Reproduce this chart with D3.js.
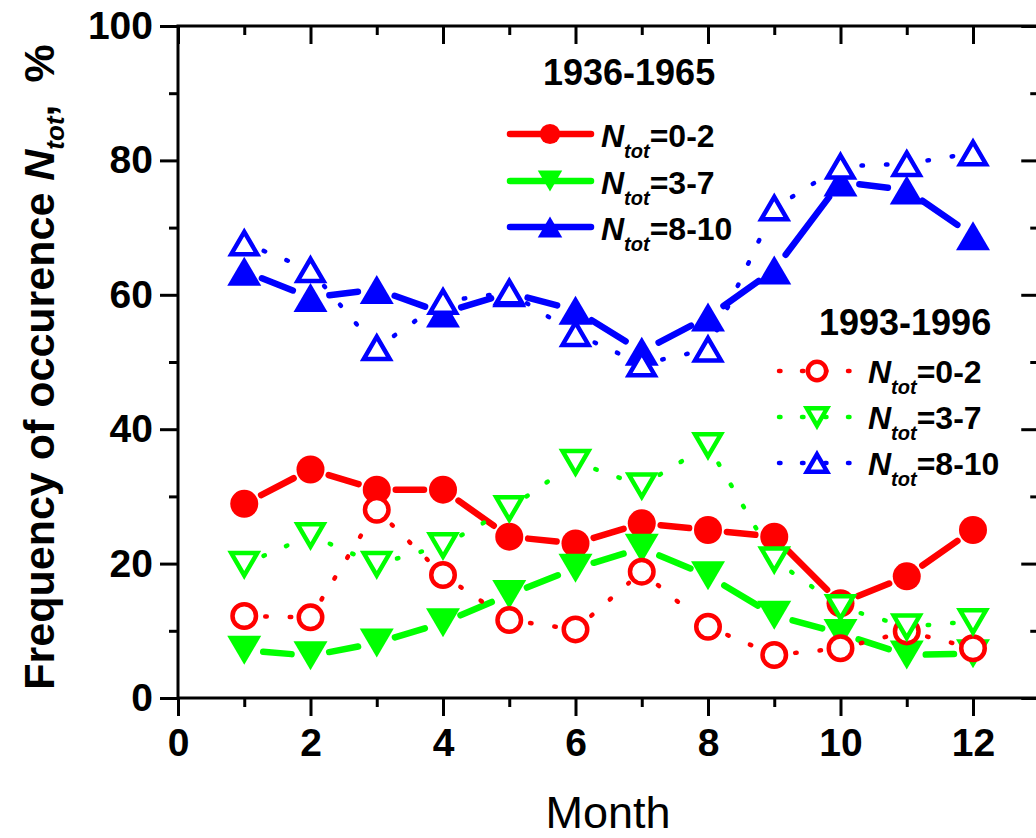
<!DOCTYPE html>
<html><head><meta charset="utf-8">
<script src="https://cdn.jsdelivr.net/npm/d3@7"></script>
<style>body{margin:0;background:#fff}svg{display:block}text{font-family:"Liberation Sans",Arial,sans-serif}</style>
</head><body><svg id="c" width="1036" height="838"></svg>
<script>
// ---- data ----
const months = [1,2,3,4,5,6,7,8,9,10,11,12];
const old02  = [28.9,34.0,31.0,31.0,24.0,23.0,26.0,25.0,24.0,14.1,18.1,25.0];
const old37  = [7.1,6.3,8.2,11.2,15.4,19.3,22.3,18.2,12.3,9.6,6.4,6.6];
const old810 = [63.5,59.6,60.8,57.3,60.3,57.7,51.6,56.7,63.7,76.8,75.6,68.8];
const new02  = [12.2,12.0,28.0,18.3,11.6,10.2,18.8,10.6,6.4,7.4,9.9,7.4];
const new37  = [19.9,24.2,19.9,22.7,28.2,35.1,31.6,37.6,20.6,13.5,10.6,11.4];
const new810 = [67.7,63.7,52.1,59.0,60.4,54.2,49.7,51.9,72.9,79.1,79.5,81.1];
const xTicks = [0,2,4,6,8,10,12];
const xMinor = [1,3,5,7,9,11,13];
const yTicks = [0,20,40,60,80,100];
const yMinor = [10,30,50,70,90];
const legendOldTitle = "1936-1965";
const legendNewTitle = "1993-1996";
const legendLabels = ["=0-2","=3-7","=8-10"];

const RED="#ff0000", GREEN="#00ff00", BLUE="#0000ff";

const svg = d3.select("#c");
const x = d3.scaleLinear().domain([0,13]).range([178, 178+13*66.25]);
const y = d3.scaleLinear().domain([0,100]).range([698,26]);
const X0=x(0), X1=x(13), Y0=y(0), Y1=y(100);

// ---- axes ----
function styleAxis(g, labels){
  g.select(".domain").remove();
  g.selectAll(".tick line").attr("stroke","#000").attr("stroke-width",3);
  if(labels) g.selectAll(".tick text").attr("font-size",39).attr("font-weight","bold").attr("fill","#000");
}
svg.append("g").attr("transform",`translate(0,${Y0})`)
  .call(d3.axisBottom(x).tickValues(xTicks).tickSize(18).tickPadding(12).tickFormat(d3.format("d")))
  .call(g=>styleAxis(g,true));
svg.append("g").attr("transform",`translate(0,${Y0})`)
  .call(d3.axisBottom(x).tickValues(xMinor).tickSize(9).tickFormat(""))
  .call(g=>styleAxis(g,false));
svg.append("g").attr("transform",`translate(${X0},0)`)
  .call(d3.axisLeft(y).tickValues(yTicks).tickSize(18).tickPadding(7).tickFormat(d3.format("d")))
  .call(g=>styleAxis(g,true));
svg.append("g").attr("transform",`translate(${X0},0)`)
  .call(d3.axisLeft(y).tickValues(yMinor).tickSize(9).tickFormat(""))
  .call(g=>styleAxis(g,false));
svg.append("g").attr("transform",`translate(0,${Y1})`)
  .call(d3.axisTop(x).tickValues(xTicks).tickSize(-18).tickFormat(""))
  .call(g=>styleAxis(g,false));
svg.append("g").attr("transform",`translate(0,${Y1})`)
  .call(d3.axisTop(x).tickValues(xMinor).tickSize(-9).tickFormat(""))
  .call(g=>styleAxis(g,false));
svg.append("g").attr("transform",`translate(${X1},0)`)
  .call(d3.axisRight(y).tickValues(yTicks).tickSize(-18).tickFormat(""))
  .call(g=>styleAxis(g,false));
svg.append("g").attr("transform",`translate(${X1},0)`)
  .call(d3.axisRight(y).tickValues(yMinor).tickSize(-9).tickFormat(""))
  .call(g=>styleAxis(g,false));
svg.append("rect").attr("x",X0).attr("y",Y1).attr("width",X1-X0).attr("height",Y0-Y1)
  .attr("fill","none").attr("stroke","#000").attr("stroke-width",3);

// ---- axis titles ----
svg.append("text").attr("x",608).attr("y",828).attr("text-anchor","middle")
  .attr("font-size",45).text("Month");
const yt = svg.append("text").attr("transform","rotate(-90)").attr("x",-367).attr("y",54)
  .attr("text-anchor","middle").attr("font-size",43).attr("font-weight","bold");
yt.append("tspan").text("Frequency of occurence ");
yt.append("tspan").attr("font-style","italic").text("N");
yt.append("tspan").attr("font-style","italic").attr("font-size",26).attr("dy",10).text("tot");
yt.append("tspan").attr("dy",-10).text(",");
yt.append("tspan").attr("dx",22).text("%");

// ---- marker shapes ----
function triPath(w,h,down){
  const s = down?-1:1;
  return `M0,${-s*h/2}L${w/2},${s*h/2}L${-w/2},${s*h/2}Z`;
}
function drawMarker(g, cx, cy, type, filled, color, scale){
  const k = scale||1;
  if(type==="circle"){
    if(filled) g.append("circle").attr("cx",cx).attr("cy",cy).attr("r",14*k).attr("fill",color);
    else g.append("circle").attr("cx",cx).attr("cy",cy).attr("r",11.75*k).attr("fill","#fff")
          .attr("stroke",color).attr("stroke-width",4.5);
  } else {
    const down = type==="down";
    if(filled) g.append("path").attr("transform",`translate(${cx},${cy})`).attr("d",triPath(34*k,29*k,down)).attr("fill",color);
    else g.append("path").attr("transform",`translate(${cx},${cy})`).attr("d",triPath(26*k,22.3*k,down))
          .attr("fill","#fff").attr("stroke",color).attr("stroke-width",4.5).attr("stroke-linejoin","miter");
  }
}

// ---- series ----
function drawSeries(vals, type, filled, color){
  const g = svg.append("g");
  const pts = months.map((m,i)=>[x(m), y(vals[i])]);
  const gap = filled?19:17;
  for(let i=0;i<pts.length-1;i++){
    const [x1,y1]=pts[i],[x2,y2]=pts[i+1];
    const dx=x2-x1, dy=y2-y1, L=Math.hypot(dx,dy);
    if(L<=2*gap) continue;
    const ux=dx/L, uy=dy/L;
    const ln = g.append("line").attr("x1",x1+ux*gap).attr("y1",y1+uy*gap)
      .attr("x2",x2-ux*gap).attr("y2",y2-uy*gap).attr("stroke",color).attr("stroke-linecap","round");
    if(filled) ln.attr("stroke-width",6.5);
    else ln.attr("stroke-width",4.5).attr("stroke-dasharray","1.5,23").attr("stroke-dashoffset",-4);
  }
  pts.forEach(p=>drawMarker(g,p[0],p[1],type,filled,color));
}
drawSeries(old02,"circle",true,RED);
drawSeries(old37,"down",true,GREEN);
drawSeries(old810,"up",true,BLUE);
drawSeries(new02,"circle",false,RED);
drawSeries(new37,"down",false,GREEN);
drawSeries(new810,"up",false,BLUE);

// ---- legends ----
function legendLabel(g, tx, base, label){
  const t = g.append("text").attr("x",tx).attr("y",base).attr("font-size",32).attr("font-weight","bold");
  t.append("tspan").attr("font-style","italic").text("N");
  t.append("tspan").attr("font-style","italic").attr("font-size",20).attr("dy",11).text("tot");
  t.append("tspan").attr("dy",-11).text(label);
}
const lg1 = svg.append("g");
lg1.append("text").attr("x",543).attr("y",85).attr("font-size",36).attr("font-weight","bold").text(legendOldTitle);
const rows1=[134,181,227], types=["circle","down","up"], cols=[RED,GREEN,BLUE];
rows1.forEach((ry,i)=>{
  lg1.append("line").attr("x1",510).attr("x2",591).attr("y1",ry).attr("y2",ry)
    .attr("stroke",cols[i]).attr("stroke-width",6.5).attr("stroke-linecap","round");
  drawMarker(lg1,550,ry,types[i],true,cols[i],0.72);
  legendLabel(lg1,601,ry+13,legendLabels[i]);
});
const lg2 = svg.append("g");
lg2.append("text").attr("x",819).attr("y",335).attr("font-size",36).attr("font-weight","bold").text(legendNewTitle);
const rows2=[371,417,463];
rows2.forEach((ry,i)=>{
  lg2.append("line").attr("x1",779).attr("x2",851).attr("y1",ry).attr("y2",ry)
    .attr("stroke",cols[i]).attr("stroke-width",4.5).attr("stroke-linecap","round")
    .attr("stroke-dasharray","1.5,21.5");
  drawMarker(lg2,817,ry,types[i],false,cols[i],0.78);
  legendLabel(lg2,868,ry+12,legendLabels[i]);
});
</script></body></html>
